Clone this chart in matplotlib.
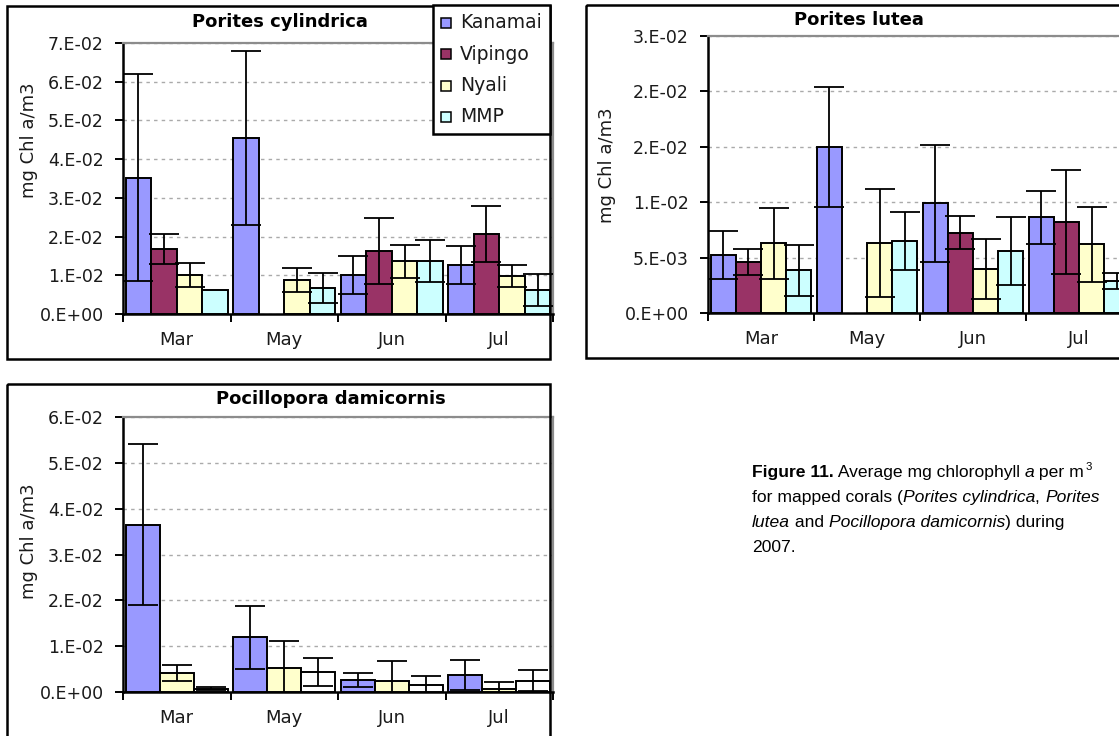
import matplotlib
matplotlib.use('Agg')

import numpy as np
import matplotlib.pyplot as plt
from matplotlib.patches import Rectangle
from matplotlib.ticker import MultipleLocator, FuncFormatter
from decimal import Decimal, ROUND_HALF_UP

plt.rcParams['font.family'] = 'DejaVu Sans'

W, H = 1119, 736
nan = np.nan

months = ['Mar', 'May', 'Jun', 'Jul']
sites = ['Kanamai', 'Vipingo', 'Nyali', 'MMP']
site_colors = ['#9999FF', '#993366', '#FFFFCC', '#CCFFFF']

# Porites cylindrica: one row per site, one column per month
cyl_means = [
    [0.0352, 0.0455, 0.0101, 0.0127],
    [0.0168, nan, 0.0163, 0.0207],
    [0.0101, 0.0088, 0.0136, 0.0098],
    [0.0062, 0.0067, 0.0136, 0.0062],
]
cyl_errs = [
    [0.0268, 0.0225, 0.0049, 0.0049],
    [0.0038, nan, 0.0086, 0.0073],
    [0.0030, 0.0030, 0.0042, 0.0029],
    [nan, 0.0038, 0.0054, 0.0042],
]

# Porites lutea
lut_means = [
    [0.00526, 0.0150, 0.0099, 0.00863],
    [0.0046, nan, 0.00725, 0.0082],
    [0.0063, 0.0063, 0.0040, 0.0062],
    [0.00385, 0.0065, 0.0056, 0.0029],
]
lut_errs = [
    [0.00217, 0.0054, 0.0053, 0.0024],
    [0.0012, nan, 0.0015, 0.0047],
    [0.0032, 0.0049, 0.0027, 0.0034],
    [0.0023, 0.0026, 0.0031, 0.0007],
]

# Pocillopora damicornis (three sites only)
poc_sites = ['Kanamai', 'Nyali', 'MMP']
poc_colors = ['#9999FF', '#FFFFCC', '#FFFFFF']
poc_means = [
    [0.0365, 0.0119, 0.0026, 0.0037],
    [0.0041, 0.0052, 0.0023, 0.0007],
    [0.0007, 0.0044, 0.0015, 0.0025],
]
poc_errs = [
    [0.0176, 0.0068, 0.0016, 0.0033],
    [0.0017, 0.0059, 0.0044, 0.0015],
    [0.0003, 0.0030, 0.0021, 0.0022],
]

fig = plt.figure(figsize=(W / 100, H / 100), dpi=100)


def excel_sci(v, pos=None):
    # Excel "0.E+00" format, rounding half up
    if abs(v) < 1e-12:
        return '0.E+00'
    d = Decimal(str(round(v, 10)))
    exp = d.adjusted()
    mant = d.scaleb(-exp).quantize(Decimal('1'), rounding=ROUND_HALF_UP)
    if mant == 10:
        mant, exp = 1, exp + 1
    return f'{mant}.E{exp:+03d}'


def px_axes(left, top, right, bottom):
    return fig.add_axes([left / W, 1 - bottom / H, (right - left) / W, (bottom - top) / H])


def draw_panel(ax, means, errs, colors, ymax, step):
    n = len(means)
    width = 0.95 / n
    x = np.arange(len(months))
    for i in range(n):
        pos = x - 0.475 + width * (i + 0.5)
        m = np.array(means[i], float)
        e = np.array(errs[i], float)
        ok = ~np.isnan(m)
        ax.bar(pos[ok], m[ok], width, color=colors[i], edgecolor='black',
               linewidth=1.4, zorder=3)
        ok_e = ok & ~np.isnan(e)
        ax.errorbar(pos[ok_e], m[ok_e], yerr=e[ok_e], fmt='none', ecolor='black',
                    elinewidth=1.3, capsize=10.5, capthick=1.3, zorder=4)
    ax.set_xlim(-0.5, len(months) - 0.5)
    ax.set_ylim(0, ymax)
    ax.yaxis.set_major_locator(MultipleLocator(step))
    ax.yaxis.set_major_formatter(FuncFormatter(excel_sci))
    ax.set_xticks(np.arange(-0.5, len(months), 1))
    ax.set_xticklabels([])
    ax.set_xticks(x, minor=True)
    ax.set_xticklabels(months, minor=True)
    ax.tick_params(axis='x', which='major', direction='out', length=6, width=1.4)
    ax.tick_params(axis='x', which='minor', length=0, pad=12, labelsize=13,
                   labelcolor='#1a1a1a')
    ax.tick_params(axis='y', direction='out', length=6, width=1.4, pad=8,
                   labelsize=12.5, labelcolor='#1a1a1a')
    ax.grid(axis='y', color='#aaaaaa', linestyle=(0, (2.5, 3)), linewidth=1)
    ax.set_axisbelow(True)
    for s in ('left', 'bottom'):
        ax.spines[s].set_color('black')
        ax.spines[s].set_linewidth(1.8)
    for s in ('top', 'right'):
        ax.spines[s].set_color('#8c8c8c')
        ax.spines[s].set_linewidth(1.6)
    ax.patch.set_alpha(0)


ax1 = px_axes(123, 43, 553, 314)
draw_panel(ax1, cyl_means, cyl_errs, site_colors, 0.07, 0.01)

ax2 = px_axes(708, 36, 1132, 313)
draw_panel(ax2, lut_means, lut_errs, site_colors, 0.025, 0.005)

ax3 = px_axes(123, 417, 553, 692)
draw_panel(ax3, poc_means, poc_errs, poc_colors, 0.06, 0.01)

# overlay in pixel units for frames, titles, legend and caption
ov = fig.add_axes([0, 0, 1, 1], zorder=10)
ov.set_xlim(0, W)
ov.set_ylim(H, 0)
ov.axis('off')
ov.patch.set_alpha(0)

for (l, t, r, b) in [(7, 6, 550, 359), (586, 5, 1140, 358), (7, 384, 550, 745)]:
    ov.add_patch(Rectangle((l, t), r - l, b - t, fill=False, edgecolor='black',
                           linewidth=1.8, clip_on=False))

title_kw = dict(fontsize=13, fontweight='bold', ha='center', va='center')
ov.text(280, 22, 'Porites cylindrica', **title_kw)
ov.text(859, 20, 'Porites lutea', **title_kw)
ov.text(331, 399, 'Pocillopora damicornis', **title_kw)

ylab_kw = dict(fontsize=13, rotation=90, ha='center', va='center', color='#1a1a1a')
ov.text(29, 140, 'mg Chl a/m3', **ylab_kw)
ov.text(607, 165, 'mg Chl a/m3', **ylab_kw)
ov.text(29, 541, 'mg Chl a/m3', **ylab_kw)

# legend box
ov.add_patch(Rectangle((433, 5), 117, 129, facecolor='white', edgecolor='black',
                       linewidth=1.8))
for i, (name, col) in enumerate(zip(sites, site_colors)):
    yc = 23 + i * 31.3
    ov.add_patch(Rectangle((441, yc - 5), 10, 10, facecolor=col, edgecolor='black',
                           linewidth=1.1))
    ov.text(460, yc, name, fontsize=13.5, ha='left', va='center', color='#1a1a1a')

# caption with mixed styles
cap_font = 'Liberation Sans'
cap_size = 12.6
cap_lines = [
    [('Figure 11.', 'normal', 'bold'), (' Average mg chlorophyll ', 'normal', 'normal'),
     ('a', 'italic', 'normal'), (' per m', 'normal', 'normal'), ('3', 'sup', 'normal')],
    [('for mapped corals (', 'normal', 'normal'), ('Porites cylindrica', 'italic', 'normal'),
     (', ', 'normal', 'normal'), ('Porites', 'italic', 'normal')],
    [('lutea', 'italic', 'normal'), (' and ', 'normal', 'normal'),
     ('Pocillopora damicornis', 'italic', 'normal'), (') during', 'normal', 'normal')],
    [('2007.', 'normal', 'normal')],
]

renderer = fig.canvas.get_renderer()


def run_width(s, **kw):
    t = fig.text(0, 0, '|' + s + '|', **kw)
    w1 = t.get_window_extent(renderer).width
    t.set_text('||')
    w2 = t.get_window_extent(renderer).width
    t.remove()
    return w1 - w2


for li, runs in enumerate(cap_lines):
    x = 752
    y = 477 + li * 25
    for s, style, weight in runs:
        if style == 'sup':
            kw = dict(family=cap_font, fontsize=cap_size * 0.65)
            ov.text(x + 1, y - 7, s, ha='left', va='baseline', **kw)
        else:
            kw = dict(family=cap_font, fontsize=cap_size, style=style, fontweight=weight)
            ov.text(x, y, s, ha='left', va='baseline', **kw)
        x += run_width(s, **kw)

fig.savefig('out.png', dpi=100)
